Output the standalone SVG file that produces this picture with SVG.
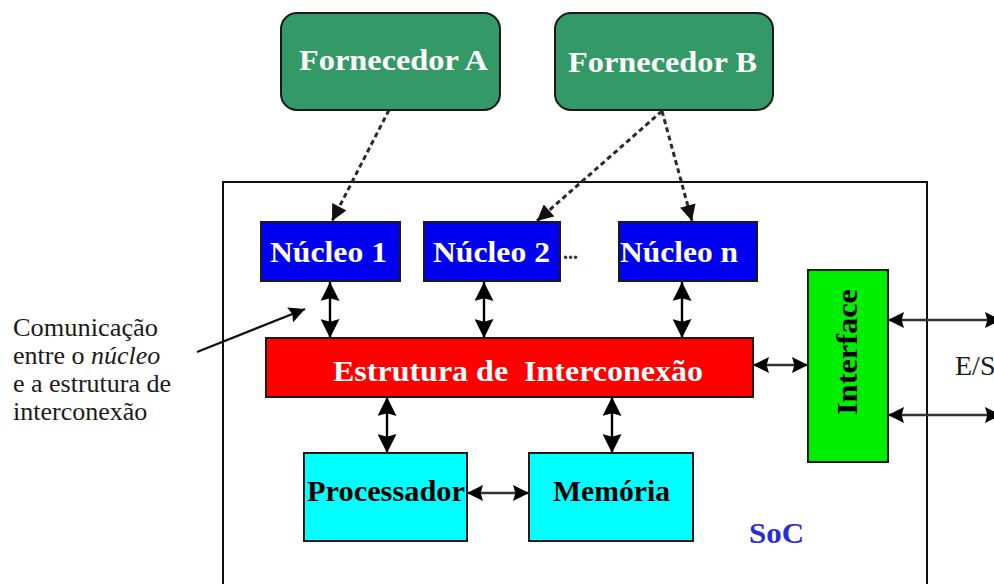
<svg xmlns="http://www.w3.org/2000/svg" width="994" height="584" viewBox="0 0 994 584">
<style>
.lbl{font-family:"Liberation Serif","Times New Roman",serif;font-weight:bold;font-size:30px}
.w{fill:#ffffff}
.k{fill:#000000}
.box{stroke:#1a1a1a;stroke-width:2}
.note{font-family:"Liberation Serif","Times New Roman",serif;font-size:26px;fill:#1a1a1a}
.bi{stroke:#000;stroke-width:2.4;fill:none;marker-start:url(#ah);marker-end:url(#ah)}
.bh{stroke:#333;stroke-width:2.4;fill:none;marker-start:url(#ahh);marker-end:url(#ahh)}
.dash{stroke:#2a2a2a;stroke-width:3;stroke-dasharray:5 3.5;fill:none;marker-end:url(#dh)}
</style>
<defs>
<marker id="ah" viewBox="0 0 10 10" refX="10" refY="5" markerWidth="20" markerHeight="19" markerUnits="userSpaceOnUse" orient="auto-start-reverse">
<path d="M0,0 L10,5 L0,10 L1.5,5 z" fill="#000"/>
</marker>
<marker id="ahh" viewBox="0 0 10 10" refX="10" refY="5" markerWidth="17" markerHeight="16" markerUnits="userSpaceOnUse" orient="auto-start-reverse">
<path d="M0,0 L10,5 L0,10 L1.5,5 z" fill="#000"/>
</marker>
<marker id="dh" viewBox="0 0 10 10" refX="10" refY="5" markerWidth="17" markerHeight="16" markerUnits="userSpaceOnUse" orient="auto">
<path d="M0,0 L10,5 L0,10 z" fill="#111"/>
</marker>
</defs>
<rect width="994" height="584" fill="#ffffff"/>

<g id="soc">
<path d="M223,600 V182 H927 V600" fill="none" stroke="#111" stroke-width="2"/>
<text class="lbl" x="749" y="543" fill="#2a2ad6" textLength="55" lengthAdjust="spacingAndGlyphs">SoC</text>
</g>

<g id="fornecedorA">
<rect class="box" x="281" y="13" width="219" height="97" rx="16" fill="#339966" stroke="#333"/>
<text class="lbl w" x="299" y="70" textLength="189" lengthAdjust="spacingAndGlyphs">Fornecedor A</text>
</g>
<g id="fornecedorB">
<rect class="box" x="555" y="13" width="218" height="97" rx="16" fill="#339966" stroke="#333"/>
<text class="lbl w" x="568" y="72" textLength="189" lengthAdjust="spacingAndGlyphs">Fornecedor B</text>
</g>

<g id="nucleo1">
<rect class="box" x="261" y="222" width="139" height="59" fill="#0000f0"/>
<text class="lbl w" x="270" y="262" textLength="117" lengthAdjust="spacingAndGlyphs">Núcleo 1</text>
</g>
<g id="nucleo2">
<rect class="box" x="424" y="222" width="136" height="59" fill="#0000f0"/>
<text class="lbl w" x="433" y="262" textLength="117" lengthAdjust="spacingAndGlyphs">Núcleo 2</text>
</g>
<g id="ellipsis">
<text class="lbl k" x="563" y="259" style="font-size:20px;fill:#333">...</text>
</g>
<g id="nucleoN">
<rect class="box" x="619" y="222" width="138" height="59" fill="#0000f0"/>
<text class="lbl w" x="620" y="262" textLength="118" lengthAdjust="spacingAndGlyphs">Núcleo n</text>
</g>

<g id="interconexao">
<rect class="box" x="266" y="338" width="487" height="59" fill="#ff0000"/>
<text class="lbl w" x="333" y="381" textLength="370" lengthAdjust="spacingAndGlyphs" xml:space="preserve">Estrutura de  Interconexão</text>
</g>

<g id="interface">
<rect class="box" x="808" y="270" width="80" height="192" fill="#00ee00"/>
<text class="lbl k" transform="translate(857,352) rotate(-90)" x="0" y="0" text-anchor="middle" textLength="126" lengthAdjust="spacingAndGlyphs">Interface</text>
</g>

<g id="processador">
<rect class="box" x="304" y="453" width="163" height="88" fill="#00ffff"/>
<text class="lbl k" x="307" y="501" textLength="158" lengthAdjust="spacingAndGlyphs">Processador</text>
</g>
<g id="memoria">
<rect class="box" x="529" y="453" width="164" height="88" fill="#00ffff"/>
<text class="lbl k" x="553" y="501" textLength="117" lengthAdjust="spacingAndGlyphs">Memória</text>
</g>

<g id="es">
<text x="955" y="375" style="font-family:'Liberation Serif','Times New Roman',serif;font-size:28px;fill:#1a1a1a">E/S</text>
</g>

<g id="nota">
<text class="note" x="13" y="336" textLength="145" lengthAdjust="spacingAndGlyphs">Comunicação</text>
<text class="note" x="13" y="364">entre o <tspan font-style="italic">núcleo</tspan></text>
<text class="note" x="13" y="392">e a estrutura de</text>
<text class="note" x="13" y="420">interconexão</text>
</g>

<g id="connectors">
<line class="dash" x1="389" y1="110" x2="332" y2="221"/>
<line class="dash" x1="662" y1="111" x2="537" y2="221"/>
<line class="dash" x1="662" y1="111" x2="692" y2="221"/>
<line class="bi" x1="330" y1="282" x2="330" y2="338"/>
<line class="bi" x1="484" y1="282" x2="484" y2="338"/>
<line class="bi" x1="682" y1="282" x2="682" y2="338"/>
<line class="bi" x1="387" y1="397" x2="387" y2="453"/>
<line class="bi" x1="612" y1="397" x2="612" y2="453"/>
<line class="bh" x1="467" y1="493" x2="529" y2="493"/>
<line class="bh" x1="753" y1="365" x2="808" y2="365"/>
<line class="bh" x1="888" y1="320" x2="1001" y2="320"/>
<line class="bh" x1="888" y1="415" x2="1001" y2="415"/>
<line x1="197" y1="352" x2="305" y2="309" stroke="#111" stroke-width="2.4" marker-end="url(#ahh)"/>
</g>
</svg>
